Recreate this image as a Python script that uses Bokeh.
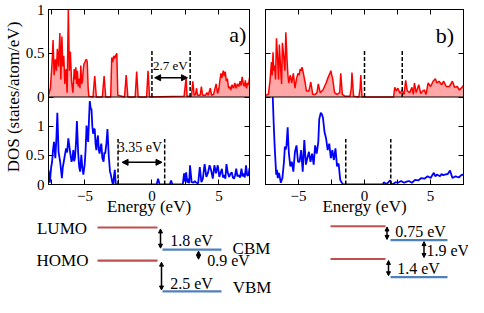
from bokeh.plotting import figure
from bokeh.models import (Range1d, LinearAxis, FixedTicker, Span, Label, Arrow,
                          NormalHead, CustomJSTickFormatter)
from bokeh.layouts import column, row
from bokeh.core.properties import value
from bokeh.embed import file_html
from bokeh.resources import INLINE

FONT = "Liberation Serif"
QFONT = "'Liberation Serif'"

# ---------------- data: DOS curves (energy in eV, DOS in states/atom/eV) -------------
a_top_E = [-7.72, -7.58, -7.45, -7.38, -7.30, -7.21, -7.13, -7.06, -6.97, -6.87,
           -6.80, -6.72, -6.65, -6.58, -6.50, -6.41, -6.33, -6.24, -6.16, -6.09,
           -6.00, -5.90, -5.80, -5.74, -5.68, -5.62, -5.56, -5.50, -5.43, -5.37,
           -5.31, -5.25, -5.19, -5.13, -5.07, -5.00, -4.95, -4.88, -4.83, -4.76,
           -4.71, -4.40, -4.27, -4.15, -3.70, -3.57, -3.45, -3.08, -3.00, -2.93,
           -2.85, -2.77, -2.69, -2.62, -2.55, -2.05, -1.92, -1.80, -1.25, -1.14,
           -1.03, -0.40, -0.29, -0.18, 2.40, 2.50, 2.55, 2.62, 2.95, 3.05,
           3.15, 3.25, 3.33, 3.40, 3.60, 3.69, 3.78, 4.00, 4.10, 4.20,
           4.35, 4.45, 4.60, 4.79, 4.90, 5.00, 5.08, 5.15, 5.22, 5.32,
           5.40, 5.47, 5.55, 5.63, 5.72, 5.80, 5.88, 5.98, 6.08, 6.19,
           6.28, 6.38, 6.48, 6.58, 6.65, 6.73, 6.82, 6.90, 6.97, 7.05,
           7.13, 7.21, 7.28]
a_top_D = [0.02, 0.10, 0.40, 0.65, 0.25, 0.43, 0.30, 0.55, 0.35, 0.73,
           0.20, 0.69, 0.35, 0.47, 0.15, 0.32, 0.05, 1.00, 0.30, 0.52,
           0.18, 0.05, 0.32, 0.20, 0.34, 0.15, 0.30, 0.12, 0.21, 0.10,
           0.36, 0.15, 0.18, 0.30, 0.38, 0.40, 0.42, 0.43, 0.40, 0.10,
           0.01, 0.00, 0.24, 0.00, 0.00, 0.24, 0.00, 0.00, 0.45, 0.40,
           0.47, 0.44, 0.48, 0.50, 0.02, 0.00, 0.25, 0.00, 0.00, 0.29,
           0.00, 0.00, 0.30, 0.00, 0.01, 0.15, 0.22, 0.01, 0.01, 0.18,
           0.02, 0.03, 0.10, 0.02, 0.02, 0.12, 0.02, 0.02, 0.05, 0.02,
           0.10, 0.02, 0.03, 0.15, 0.04, 0.10, 0.20, 0.27, 0.22, 0.30,
           0.24, 0.29, 0.18, 0.21, 0.10, 0.12, 0.08, 0.14, 0.10, 0.16,
           0.10, 0.15, 0.12, 0.18, 0.13, 0.23, 0.15, 0.12, 0.19, 0.10,
           0.16, 0.14, 0.22]

a_bot_E = [-7.72, -7.62, -7.52, -7.45, -7.38, -7.31, -7.21, -7.13, -7.06, -6.97,
           -6.85, -6.72, -6.65, -6.58, -6.50, -6.41, -6.33, -6.24, -6.11, -6.00,
           -5.93, -5.87, -5.81, -5.75, -5.67, -5.60, -5.51, -5.43, -5.36, -5.27,
           -5.20, -5.12, -5.02, -4.95, -4.88, -4.82, -4.76, -4.70, -4.64, -4.57,
           -4.51, -4.45, -4.39, -4.33, -4.27, -4.21, -4.15, -4.09, -4.03, -3.97,
           -3.91, -3.85, -3.78, -3.70, -3.61, -3.55, -3.49, -3.40, -3.32, -3.22,
           -3.13, -3.07, -3.01, -2.95, -2.89, -2.83, -2.77, -2.70, -2.60, 0.35,
           0.46, 0.57, 1.33, 1.43, 1.53, 2.30, 2.40, 2.48, 2.55, 2.64,
           2.72, 2.78, 2.84, 2.96, 3.10, 3.20, 3.30, 3.45, 3.57, 3.69,
           3.80, 3.93, 4.06, 4.18, 4.30, 4.42, 4.54, 4.66, 4.78, 4.91,
           5.03, 5.12, 5.22, 5.30, 5.39, 5.48, 5.56, 5.66, 5.76, 5.85,
           5.95, 6.04, 6.12, 6.20, 6.29, 6.38, 6.48, 6.58, 6.68, 6.76,
           6.85, 6.93, 7.02, 7.11, 7.21, 7.28]
a_bot_D = [0.25, 0.03, 0.30, 0.39, 0.60, 0.73, 0.45, 0.80, 1.23, 0.56,
           0.39, 0.11, 0.30, 0.39, 0.50, 0.62, 0.55, 0.79, 0.56, 0.39,
           0.45, 0.59, 0.40, 0.45, 0.70, 1.09, 0.56, 0.30, 0.22, 0.51,
           0.30, 0.17, 0.34, 0.60, 1.01, 0.85, 0.73, 1.10, 1.43, 1.30,
           1.29, 1.00, 0.87, 0.95, 0.95, 0.70, 0.59, 0.75, 0.84, 0.60,
           0.53, 0.62, 0.70, 0.45, 0.39, 0.55, 0.53, 0.70, 0.95, 0.48,
           0.22, 0.17, 0.10, 0.03, 0.00, 0.15, 0.25, 0.00, 0.00, 0.00,
           0.10, 0.00, 0.00, 0.07, 0.00, 0.00, 0.19, 0.05, 0.21, 0.03,
           0.10, 0.02, 0.33, 0.04, 0.03, 0.06, 0.03, 0.02, 0.30, 0.04,
           0.10, 0.35, 0.13, 0.20, 0.33, 0.24, 0.10, 0.33, 0.19, 0.33,
           0.13, 0.20, 0.27, 0.12, 0.16, 0.10, 0.35, 0.20, 0.13, 0.18,
           0.21, 0.12, 0.10, 0.15, 0.27, 0.14, 0.16, 0.12, 0.27, 0.14,
           0.19, 0.12, 0.33, 0.15, 0.16, 0.28]

b_top_E = [-7.50, -7.28, -7.16, -7.05, -6.99, -6.93, -6.87, -6.81, -6.74, -6.67,
           -6.57, -6.51, -6.45, -6.34, -6.28, -6.22, -6.10, -6.03, -5.96, -5.86,
           -5.80, -5.74, -5.62, -5.51, -5.39, -5.27, -5.15, -5.04, -4.95, -4.87,
           -4.80, -4.73, -4.63, -4.49, -4.40, -4.21, -4.07, -3.92, -3.74, -3.60,
           -3.50, -3.36, -3.15, -2.91, -2.74, -2.62, -2.55, -2.48, -2.41, -2.27,
           -2.08, -1.88, -1.80, -1.68, -1.49, -1.10, -1.00, -0.95, -0.83, -0.43,
           -0.33, -0.28, -0.19, 2.20, 2.29, 2.41, 2.53, 2.70, 2.84, 3.00,
           3.12, 3.24, 3.43, 3.59, 3.70, 3.78, 3.92, 4.11, 4.26, 4.42,
           4.54, 4.66, 4.82, 5.01, 5.20, 5.37, 5.48, 5.65, 5.84, 6.00,
           6.19, 6.43, 6.66, 6.83, 7.02, 7.19, 7.38, 7.50]
b_top_D = [0.02, 0.03, 0.18, 0.40, 0.25, 0.51, 0.30, 0.36, 0.20, 0.67,
           0.40, 0.20, 0.60, 0.29, 0.15, 0.62, 0.43, 0.30, 0.74, 0.40,
           0.25, 0.16, 0.25, 0.16, 0.27, 0.10, 0.21, 0.27, 0.25, 0.32,
           0.30, 0.34, 0.27, 0.16, 0.07, 0.07, 0.17, 0.03, 0.03, 0.05,
           0.15, 0.05, 0.08, 0.16, 0.23, 0.27, 0.30, 0.25, 0.21, 0.05,
           0.03, 0.05, 0.27, 0.03, 0.01, 0.01, 0.10, 0.28, 0.01, 0.00,
           0.10, 0.25, 0.00, 0.00, 0.11, 0.07, 0.10, 0.04, 0.08, 0.03,
           0.19, 0.07, 0.05, 0.11, 0.03, 0.16, 0.05, 0.14, 0.04, 0.07,
           0.08, 0.03, 0.16, 0.12, 0.18, 0.21, 0.16, 0.18, 0.14, 0.18,
           0.12, 0.12, 0.18, 0.11, 0.12, 0.08, 0.11, 0.13]

b_bot_E = [-6.95, -6.88, -6.81, -6.69, -6.63, -6.57, -6.51, -6.45, -6.34, -6.22,
           -6.10, -6.03, -5.97, -5.91, -5.82, -5.77, -5.72, -5.62, -5.51, -5.39,
           -5.27, -5.15, -5.04, -4.92, -4.80, -4.68, -4.56, -4.44, -4.33, -4.21,
           -4.09, -3.97, -3.85, -3.74, -3.62, -3.50, -3.43, -3.31, -3.22, -3.15,
           -3.03, -2.91, -2.79, -2.67, -2.55, -2.44, -2.32, -2.20, -2.08, -1.96,
           -1.84, -1.72, -1.60, 1.40, 1.46, 1.58, 1.70, 1.94, 2.05, 2.17,
           2.36, 2.53, 2.77, 3.00, 3.20, 3.36, 3.59, 3.83, 4.07, 4.30,
           4.54, 4.78, 5.01, 5.25, 5.37, 5.48, 5.72, 5.84, 5.96, 6.08,
           6.31, 6.48, 6.66, 6.90, 7.14, 7.38, 7.50]
b_bot_D = [1.50, 1.05, 0.67, 0.17, 0.25, 0.11, 0.20, 0.17, 0.03, 0.11,
           0.39, 0.65, 0.60, 0.67, 0.98, 0.70, 0.51, 0.31, 0.39, 0.22,
           0.56, 0.67, 0.39, 0.39, 0.59, 0.22, 0.76, 0.34, 0.45, 0.56,
           0.39, 0.53, 0.34, 0.67, 0.53, 0.73, 1.12, 1.23, 1.20, 1.15,
           0.90, 0.79, 0.59, 0.70, 0.45, 0.59, 0.42, 0.62, 0.31, 0.36,
           0.08, 0.03, 0.00, 0.00, 0.04, 0.02, 0.01, 0.07, 0.00, 0.01,
           0.04, 0.03, 0.06, 0.03, 0.05, 0.06, 0.03, 0.08, 0.07, 0.11,
           0.10, 0.14, 0.11, 0.20, 0.14, 0.17, 0.14, 0.18, 0.16, 0.17,
           0.18, 0.24, 0.11, 0.14, 0.12, 0.17, 0.16]

# gap edges (eV) and their labels
a_top_edges = [0.0, 2.85]
a_bot_edges = [-2.53, 0.95]
b_top_edges = [0.0, 2.86]
b_bot_edges = [-1.42, 1.99]
a_top_gap = "2.7 eV"
a_bot_gap = "3.35 eV"

# x / y tick values
x_ticks = [-5, 0, 5]
x_minor = [-7.5, -2.5, 2.5, 7.5]
y_ticks = [0, 0.5, 1, 1.5, 2.25, 3]
y_overrides = {1.5: "0", 2.25: "0.5", 3: "1"}

# ---------------- data: level scheme (energies as drawn, eV) ----------------
a_mol_names = ["LUMO", "HOMO"]
a_mol_E = [0.0, -2.7]
a_band_names = ["CBM", "VBM"]
a_band_E = [-1.8, -5.2]
a_gaps = ["1.8 eV", "0.9 eV", "2.5 eV"]
b_mol_E = [0.10, -2.56]
b_band_E = [-1.03, -4.04]
b_gaps = ["0.75 eV", "1.9 eV", "1.4 eV"]

RED_LEVEL = "#C0504D"
BLUE_LEVEL = "#4F81BD"

H = 218
blank = CustomJSTickFormatter(code="return ''")


def style_axis(ax):
    ax.major_tick_in = 5
    ax.major_tick_out = 0
    ax.minor_tick_in = 5
    ax.minor_tick_out = 0
    ax.axis_line_color = "black"
    ax.major_tick_line_color = "black"
    ax.minor_tick_line_color = "black"
    ax.major_label_text_font = QFONT
    ax.major_label_text_font_size = "15px"
    ax.major_label_text_font_style = "normal"
    ax.major_label_text_color = "black"
    ax.axis_label_text_font = QFONT
    ax.axis_label_text_font_style = "normal"
    ax.axis_label_text_color = "black"
    ax.axis_label_text_font_size = "17px"


def make_panel(xr, width, bl, br, Et, Dt, Eb, Db, tedges, bedges, tag, tag_xy,
               ylabel, tgap=None, bgap=None):
    p = figure(width=width, height=H, x_range=Range1d(*xr), y_range=Range1d(0, 3.0),
               output_backend="svg", toolbar_location=None,
               min_border_left=bl, min_border_right=br, min_border_top=9,
               min_border_bottom=30)
    p.extra_y_ranges = {"top": Range1d(-1, 1)}
    p.grid.visible = False
    p.outline_line_color = "black"
    p.outline_line_width = 1
    xt = FixedTicker(ticks=x_ticks, minor_ticks=x_minor)
    yt = FixedTicker(ticks=y_ticks, minor_ticks=[])
    p.xaxis.ticker = xt
    p.yaxis.ticker = yt
    p.add_layout(LinearAxis(ticker=xt, formatter=blank, major_label_standoff=0), "above")
    p.add_layout(LinearAxis(ticker=yt, formatter=blank, major_label_standoff=0), "right")
    for ax in p.axis:
        style_axis(ax)
    xa = p.below[0]
    xa.axis_label = "Energy (eV)"
    xa.major_label_standoff = 6
    xa.axis_label_standoff = -7
    ya = p.left[0]
    if ylabel:
        ya.axis_label = ylabel
        ya.major_label_overrides = y_overrides
        ya.major_label_standoff = 4
        ya.axis_label_standoff = 0
    else:
        ya.formatter = blank
        ya.major_label_standoff = 0

    # top: red DOS
    p.varea(x=Et, y1=0, y2=Dt, y_range_name="top", fill_color="red", fill_alpha=0.35)
    p.line(Et, Dt, y_range_name="top", line_color="red", line_width=1.5)
    # bottom: blue DOS
    p.line(Eb, Db, line_color="blue", line_width=1.8)
    # divider between the two sub-panels
    p.add_layout(Span(location=1.5, dimension="width", line_color="black", line_width=1))

    # gap markers
    p.segment(x0=tedges, y0=[0, 0], x1=tedges, y1=[0.53, 0.53], y_range_name="top",
              line_color="black", line_width=1.5, line_dash="4 2")
    p.segment(x0=bedges, y0=[0, 0], x1=bedges, y1=[0.78, 0.78],
              line_color="black", line_width=1.5, line_dash="4 2")
    if tgap:
        p.add_layout(Arrow(start=NormalHead(size=6, fill_color="black", line_color="black"),
                           end=NormalHead(size=6, fill_color="black", line_color="black"),
                           x_start=tedges[0] + 0.2, x_end=tedges[1] - 0.2,
                           y_start=0.22, y_end=0.22, y_range_name="top", line_width=1.5))
        p.add_layout(Label(x=(tedges[0] + tedges[1]) / 2 - 0.05, y=0.36, text=tgap,
                           y_range_name="top", text_align="center", text_baseline="middle",
                           text_font=QFONT, text_font_size="13px", text_color="black"))
    if bgap:
        p.add_layout(Arrow(start=NormalHead(size=6, fill_color="black", line_color="black"),
                           end=NormalHead(size=6, fill_color="black", line_color="black"),
                           x_start=bedges[0] + 0.3, x_end=bedges[1] - 0.2,
                           y_start=0.38, y_end=0.38, line_width=1.5))
        p.add_layout(Label(x=(bedges[0] + bedges[1]) / 2 - 0.1, y=0.64, text=bgap,
                           text_align="center", text_baseline="middle",
                           text_font=QFONT, text_font_size="14px", text_color="black"))
    p.add_layout(Label(x=tag_xy[0], y=tag_xy[1], text=tag, y_range_name="top",
                       text_align="center", text_baseline="middle",
                       text_font=QFONT, text_font_size="22px", text_color="black"))
    return p


fa = make_panel((-7.72, 7.28), 250, 43, 1, a_top_E, a_top_D, a_bot_E, a_bot_D,
                a_top_edges, a_bot_edges, "a)", (6.4, 0.72), "DOS (states/atom/eV)",
                tgap=a_top_gap, bgap=a_bot_gap)
fb = make_panel((-7.5, 7.5), 218, 15, 5, b_top_E, b_top_D, b_bot_E, b_bot_D,
                b_top_edges, b_bot_edges, "b)", (6.1, 0.70), None)

# ---------------- level scheme ----------------
DH = 297 - H
d = figure(width=468, height=DH, x_range=Range1d(0, 468), y_range=Range1d(-5.69, 0.73),
           output_backend="svg", toolbar_location=None, min_border=0,
           x_axis_location=None, y_axis_location=None)
d.outline_line_color = None
d.grid.visible = False

# horizontal placement of the scheme columns (layout, px)
a_mol_x = (97, 157)
a_band_x = (162, 221)
b_mol_x = (330, 385)
b_band_x = (390, 447)

for (x0, x1), Es, col in [(a_mol_x, a_mol_E, RED_LEVEL), (a_band_x, a_band_E, BLUE_LEVEL),
                          (b_mol_x, b_mol_E, RED_LEVEL), (b_band_x, b_band_E, BLUE_LEVEL)]:
    d.segment(x0=[x0] * len(Es), x1=[x1] * len(Es), y0=Es, y1=Es,
              line_color=col, line_width=2.2)


def dbl_arrow(x, e_hi, e_lo, inset=0.12):
    d.add_layout(Arrow(start=NormalHead(size=4, fill_color="black", line_color="black"),
                       end=NormalHead(size=4, fill_color="black", line_color="black"),
                       x_start=x, x_end=x, y_start=e_hi - inset, y_end=e_lo + inset,
                       line_width=1.5, line_color="black"))


# panel a gaps: LUMO-CBM, CBM-HOMO, HOMO-VBM
dbl_arrow(160, a_mol_E[0], a_band_E[0])
dbl_arrow(198, a_band_E[0], a_mol_E[1])
dbl_arrow(161, a_mol_E[1], a_band_E[1])
# panel b gaps
dbl_arrow(386.5, b_mol_E[0], b_band_E[0], inset=0.06)
dbl_arrow(423.5, b_band_E[0], b_mol_E[1])
dbl_arrow(388, b_mol_E[1], b_band_E[1])

d.text(x=[61.5, 62], y=[a_mol_E[0] - 0.05, a_mol_E[1] + 0.03], text=a_mol_names,
       text_font=value(FONT), text_font_size="17px", text_align="center",
       text_baseline="middle", text_color="black")
d.text(x=[251, 251.5], y=[a_band_E[0] + 0.08, a_band_E[1] + 0.35], text=a_band_names,
       text_font=value(FONT), text_font_size="17px", text_align="center",
       text_baseline="middle", text_color="black")
d.text(x=[191, 228, 191], y=[-1.05, -2.71, -4.53], text=a_gaps,
       text_font=value(FONT), text_font_size="16px", text_align="center",
       text_baseline="middle", text_color="black")
d.text(x=[420, 426, 418], y=[-0.35, -1.91, -3.37], text=b_gaps,
       text_font=value(FONT), text_font_size="16px", text_align=["center", "left", "center"],
       text_baseline="middle", text_color="black")

layout = column(row(fa, fb), d)
open("out.html", "w").write(file_html(layout, INLINE))
